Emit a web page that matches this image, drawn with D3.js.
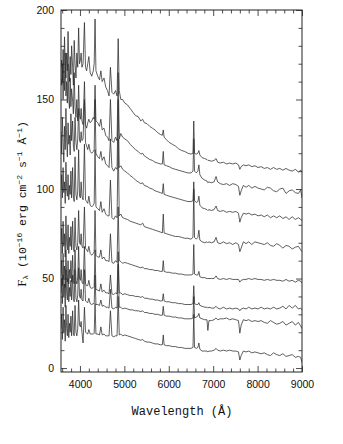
<!DOCTYPE html>
<html><head><meta charset="utf-8">
<script src="https://cdn.jsdelivr.net/npm/d3@7"></script>
<style>
html,body{margin:0;padding:0;background:#fff;}
svg{display:block;}
.tick text{font-family:"Liberation Sans",Arial,sans-serif;font-size:10.5px;fill:#111;}
</style>
</head><body>
<svg id="chart" width="343" height="444"></svg>
<script>
// Wavelength grid (Å), shared by all spectra
const wave = [
 3574,3588,3604,3620,3636,3652,3668,3684,3700,3716,3732,3748,3764,3780,3796,3812,3835,3852,3870,3889,3910,3930,3950,3970,3990,
 4010,4026,4045,4070,4101,4125,4150,4175,4200,4230,4265,4300,4320,4340,4360,4400,4440,4471,4500,4542,4580,4620,4655,4686,4720,4760,4800,4835,4861,4885,4920,4960,
 5010,5070,5130,5190,5250,5310,5370,5411,5450,5510,5570,5630,5690,5750,5810,5855,5876,5895,5950,6010,
 6080,6150,6220,6290,6360,6430,6500,6545,6563,6580,6620,6655,6678,6700,6750,6810,6860,6880,6905,6960,
 7020,7065,7100,7160,7230,7300,7370,7440,7510,7570,7600,7630,7680,7740,7800,7870,7940,8010,8080,8150,
 8220,8290,8360,8430,8500,8570,8640,8710,8780,8850,8920,8970,9000];

// Flux (1e-16 erg cm-2 s-1 A-1), one array per spectrum, top to bottom
const specA = [
 168,172,160,178,165,185,170,162,176,166,188,170,160,174,164,180,168,158,183,170,162,176,168,190,170,
 172,176,168,170,193,168,166,170,174,165,163,166,170,195,166,163,161,166,160,162,157,155,152,168,154,153,155,152,184,155,150,150,
 148,147,145,143,141,140.5,138,139,137,136.5,135,134,133,131.5,130.5,130,133,129,127.5,126,
 125,124,122.5,121.5,121,120,119.5,120,138,120,119.5,120,121.5,119,117.5,117,116.5,116,116,115.5,
 116,117,115,114.5,115,114,114.5,114,114.5,113.5,111,112.5,113.5,113,113.5,112.5,113,112,112.5,111.5,
 112,111,112,111,111.5,110.5,111.5,110.5,110,111,109.5,110.5,109.5];
const specB = [
 162,158,170,150,166,155,176,152,160,148,170,150,145,162,146,156,149,142,165,146,140,150,138,158,141,
 139,145,138,136,160,136,134,137,139,137,138,140,139,158,138,137,135,139,133,134,130,129,127,150,127,126,129,127,165,128,131,129,
 128,127,125,123.5,122,121,119.5,120,118.5,117.5,116.5,116,115,114.5,114,114,121,113.5,113,112.5,
 111.5,111,110.5,110,109.5,109,109,110,128,110,109,110,113.5,108,106,105,104.5,103.5,104,103.5,
 104,107,104,103,102.5,103,102,103,102.5,101.5,96.5,99,102,101,102,100.5,101.5,100.5,100,99.5,
 101,100.5,99,98.5,100,100.5,97.5,99,99.5,98,97.5,99.5,95];
const specC = [
 132,120,140,126,115,135,122,145,128,118,137,125,130,119,142,127,138,124,121,140,126,122,128,145,127,
 126,132,127,128,150,126,124,122,125,121,120,121,122,150,120,118,117,121,116,118,114,113,112,128,112,110,112,111,150,112,113,111,
 110,109,107.5,106.5,105,104,103,103.5,102,101.5,100.5,100,99,98.5,98,97.5,103,97,96.5,96,
 95.5,95,94.5,94,93.5,93,93,93.5,104,93.5,92.5,93,96,91,89.5,89,88.5,88,88.5,88,
 88.5,90.5,88,87.5,88,87,87.5,87,87.5,86.5,81.5,84,86.5,86,86.5,85.5,86,85,85.5,84.5,
 85.5,84,85,84,85,83.5,84.5,83,84.5,83,84,83,82.5];
const specD = [
 100,108,95,112,98,104,92,115,100,96,108,94,102,97,110,95,112,96,93,118,97,94,99,122,96,
 95,104,96,94,125,94,93,92,96,91,90,91,92,122,90,89,88,93,87,89,86,85,85,105,84,83,85,84,128,85,86,84,
 83.5,83,82,81.5,81,80.5,80,81,79,78.5,78,77.5,77,76.5,76,75.5,86,75.5,75,74.5,
 74,73.5,73.5,73,72.5,72.5,72,73,100,73,72,73,77,71.5,70.5,70,70.5,70,70.5,70,
 70.5,73,70,69.5,70.5,69.5,70,69,70,69,65,67,70.5,69.5,70.5,69,70.5,70,69.5,69,
 70,68.5,68,69.5,68.5,67,68.5,68,66.5,67.5,68,66,65];
const specE = [
 70,78,64,82,68,75,62,85,70,66,80,64,73,68,79,66,82,67,65,84,68,66,70,88,70,
 69,75,68,67,90,67,66,65,68,64,63,64,65,88,63,62,62,66,61,62,60,60,59.5,75,59,58.5,60,59,90,60,59.5,58.5,
 59,58.5,58,57.5,57,56.5,56,56.5,55.5,55.5,55,55,54.5,54.5,54,54,60,54,53.5,53.5,
 53,53,52.5,52.5,52,52,52,52.5,69,52.5,52,52,54,51,50.5,50.5,50,50,50,50,
 50,51.5,50,49.5,50,49.5,50,49.5,49.5,49.5,48,49,49.5,49.5,50,49.5,50,49.5,49.5,49,
 49.5,49,49.5,49,49,48.5,49.5,48.5,49,48,49,48.5,47.5];
const specF = [
 52,60,46,64,50,57,45,66,52,48,60,47,55,50,60,48,63,49,47,66,49,47,51,68,50,
 49,55,48,47,68,47,46,46,49,45,44.5,45,45.5,66,44,43.5,43,47,42.5,43.5,42,42,41.5,52,41.5,41,42,41.5,65,42,42,41,
 41.5,41,40.5,40.5,40,40,39.5,40,39,39,38.5,38.5,38,38,37.5,37.5,41.5,37.5,37,37,
 36.5,36.5,36,36,35.5,35.5,35.5,36,46,36,35.5,35.5,36.5,35,34.5,34,34,33.5,34,33.5,
 33.5,34.5,33.5,33,34,33,33.5,33,33.5,33,32,33,33.5,33,34,33,33.5,33,34,33,
 33.5,33,34,33,33.5,34.5,33,35,33.5,35,33,33.5,32.5];
const specG = [
 42,50,36,52,40,47,34,55,42,38,50,37,45,40,49,38,52,39,37,55,39,37,41,56,40,
 39,44,38,37.5,55,37.5,37,36.5,39,36,35.5,36,36,52,35.5,35.5,35,38,34.5,35,34,34,33.5,44,33.5,33,34,33.5,58,34,34,33,
 33.5,33,32.5,32.5,32,32,31.5,32,31,31,30.5,30.5,30,30,29.5,29.5,34.5,29.5,29,29,
 28.5,28.5,28,28,27.5,27.5,27.5,28,40,28,28.5,29,30.5,28,27.5,27,27,21,26.5,26.5,
 27,28,27,27.5,27.5,28,27,27.5,27,26.5,19.5,24,27,26.5,27,26,26.5,26,26.5,25.5,
 25,26.5,25.5,24.5,25,26,24,25,26,24,25.5,23.5,22];
const specH = [
 22,30,16,34,20,27,15,35,22,18,30,17,25,20,29,18,32,19,18,35,20,18,22,38,24,
 23,26,20,14,34,20,19.5,19,21.5,19,19,19,19.5,36,19,19,18.5,23,18.5,19,18,18,18,32,18,17.5,18,18,40,18.5,19,18,
 18.5,18,17.5,17,16.5,16,15.5,16,15,14.5,14.5,14,13.5,13.5,13,13,18.5,13,12.5,12.5,
 12,12,11.5,11.5,11,11,11,11.5,30,11.5,11,11.5,14,10.5,9.5,9.5,9.5,9,9.5,9.5,
 10,11,10,9.5,10,9.5,10,9.5,9.5,9,4.5,7,9.5,9,9.5,8.5,9,8.5,8,8.5,
 7.5,7,8.5,7.5,7,8,6.5,7,7.5,6,6.5,6,3];

const xMajor = [4000,5000,6000,7000,8000,9000];
const yMajor = [0,50,100,150,200];

const spectra = [specA,specB,specC,specD,specE,specF,specG,specH];
spectra.forEach((s,i)=>{ if(s.length!==wave.length) throw new Error("spectrum "+i+" has "+s.length+" vs "+wave.length); });

const svg = d3.select("#chart");
const L=61, R=302, T=10, B=372;
const x = d3.scaleLinear().domain([3573,9000]).range([L,R]);
const y = d3.scaleLinear().domain([-2.2,200]).range([B,T]);

const xMinor = d3.range(3600,9001,200).filter(v=>!xMajor.includes(v));
const yMinor = d3.range(0,201,10).filter(v=>!yMajor.includes(v));

svg.append("defs").append("clipPath").attr("id","clip")
  .append("rect").attr("x",L).attr("y",T).attr("width",R-L).attr("height",B-T);

const line = d3.line().x((d,i)=>x(wave[i])).y(d=>y(d));
const g = svg.append("g").attr("clip-path","url(#clip)");
spectra.forEach(s=>{
  g.append("path").datum(s).attr("d",line)
   .attr("fill","none").attr("stroke","#2a2a2a").attr("stroke-width",0.75)
   .attr("stroke-linejoin","round");
});

function styleAxis(sel){
  sel.select(".domain").remove();
  sel.selectAll(".tick line").attr("stroke","#222").attr("stroke-width",0.8);
}
// bottom
svg.append("g").attr("transform",`translate(0,${B})`)
  .call(d3.axisBottom(x).tickValues(xMajor).tickSize(-6).tickPadding(8.5).tickFormat(d3.format("d"))).call(styleAxis);
svg.append("g").attr("transform",`translate(0,${B})`)
  .call(d3.axisBottom(x).tickValues(xMinor).tickSize(-3.5).tickFormat("")).call(styleAxis);
// top
svg.append("g").attr("transform",`translate(0,${T})`)
  .call(d3.axisTop(x).tickValues(xMajor).tickSize(-6).tickFormat("")).call(styleAxis);
svg.append("g").attr("transform",`translate(0,${T})`)
  .call(d3.axisTop(x).tickValues(xMinor).tickSize(-3.5).tickFormat("")).call(styleAxis);
// left
svg.append("g").attr("transform",`translate(${L},0)`)
  .call(d3.axisLeft(y).tickValues(yMajor).tickSize(-6).tickPadding(7).tickFormat(d3.format("d"))).call(styleAxis);
svg.append("g").attr("transform",`translate(${L},0)`)
  .call(d3.axisLeft(y).tickValues(yMinor).tickSize(-3.5).tickFormat("")).call(styleAxis);
// right
svg.append("g").attr("transform",`translate(${R},0)`)
  .call(d3.axisRight(y).tickValues(yMajor).tickSize(-6).tickFormat("")).call(styleAxis);
svg.append("g").attr("transform",`translate(${R},0)`)
  .call(d3.axisRight(y).tickValues(yMinor).tickSize(-3.5).tickFormat("")).call(styleAxis);

svg.append("rect").attr("x",L).attr("y",T).attr("width",R-L).attr("height",B-T)
  .attr("fill","none").attr("stroke","#222").attr("stroke-width",1);

const mono = "'Liberation Mono','DejaVu Sans Mono',monospace";
svg.append("text").attr("x",182).attr("y",415).attr("text-anchor","middle")
  .attr("font-family",mono).attr("font-size",12).attr("fill","#111")
  .text("Wavelength (Å)");

const yl = svg.append("text").attr("transform","translate(26,204) rotate(-90)")
  .attr("text-anchor","middle").attr("font-family",mono).attr("font-size",11.5).attr("fill","#111");
yl.append("tspan").attr("font-family","'Liberation Serif',serif").attr("font-size",13).text("F");
yl.append("tspan").attr("font-size",8).attr("dy",2).text("λ");
yl.append("tspan").attr("dy",-2).text(" (10");
yl.append("tspan").attr("font-size",8).attr("dy",-4).text("−16");
yl.append("tspan").attr("dy",4).text(" erg cm");
yl.append("tspan").attr("font-size",8).attr("dy",-4).text("−2");
yl.append("tspan").attr("dy",4).text(" s");
yl.append("tspan").attr("font-size",8).attr("dy",-4).text("−1");
yl.append("tspan").attr("dy",4).text(" Å");
yl.append("tspan").attr("font-size",8).attr("dy",-4).text("−1");
yl.append("tspan").attr("dy",4).text(")");
</script>
</body></html>
